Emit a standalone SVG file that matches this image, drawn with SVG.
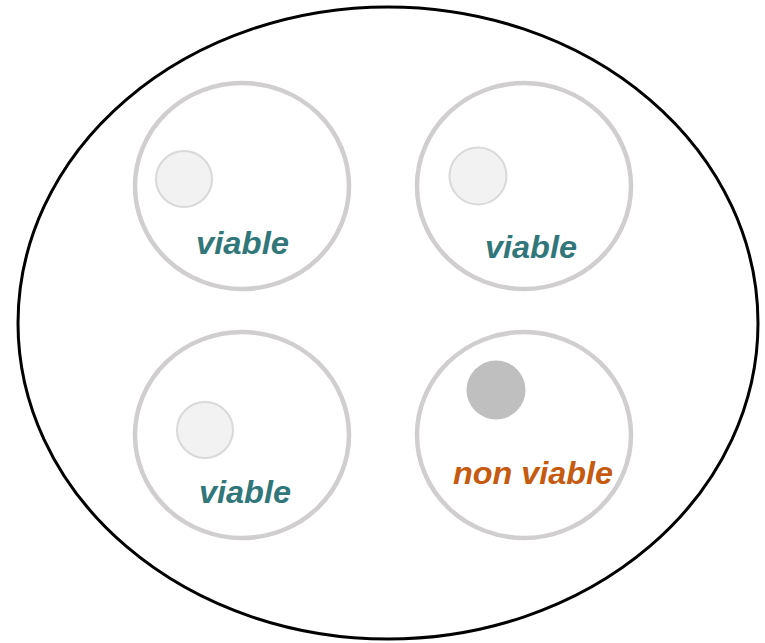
<svg xmlns="http://www.w3.org/2000/svg" width="765" height="643" viewBox="0 0 765 643">
<style>
.outer{fill:#fff;stroke:#000;stroke-width:3}
.cell{fill:#fff;stroke:#d0cece;stroke-width:4.5}
.nuc{fill:#f2f2f2;stroke:#d9d9d9;stroke-width:2}
.dead{fill:#bfbfbf}
.lbl{font-family:"Liberation Sans",Arial,sans-serif;font-weight:bold;font-style:italic;font-size:31px}
.v{fill:#31777a}
.nv{fill:#c55a11}
</style>
<rect width="765" height="643" fill="#fff"/>
<g id="container"><ellipse class="outer" cx="388" cy="323" rx="370" ry="316"/></g>
<g id="cell-tl">
<ellipse class="cell" cx="242" cy="186" rx="107" ry="103"/>
<circle class="nuc" cx="184" cy="179" r="28"/>
<text class="lbl v" x="196" y="254" textLength="93" lengthAdjust="spacingAndGlyphs">viable</text>
</g>
<g id="cell-tr">
<ellipse class="cell" cx="524" cy="186" rx="107" ry="103"/>
<circle class="nuc" cx="478" cy="176" r="28.5"/>
<text class="lbl v" x="485" y="258" textLength="92" lengthAdjust="spacingAndGlyphs">viable</text>
</g>
<g id="cell-bl">
<ellipse class="cell" cx="242" cy="435" rx="107" ry="103"/>
<circle class="nuc" cx="205" cy="430" r="28"/>
<text class="lbl v" x="199" y="503" textLength="92" lengthAdjust="spacingAndGlyphs">viable</text>
</g>
<g id="cell-br">
<ellipse class="cell" cx="524" cy="435" rx="107" ry="103"/>
<circle class="dead" cx="496" cy="390" r="29.5"/>
<text class="lbl nv" x="453" y="484" textLength="160" lengthAdjust="spacingAndGlyphs">non viable</text>
</g>
<g id="connectors"/>
</svg>
